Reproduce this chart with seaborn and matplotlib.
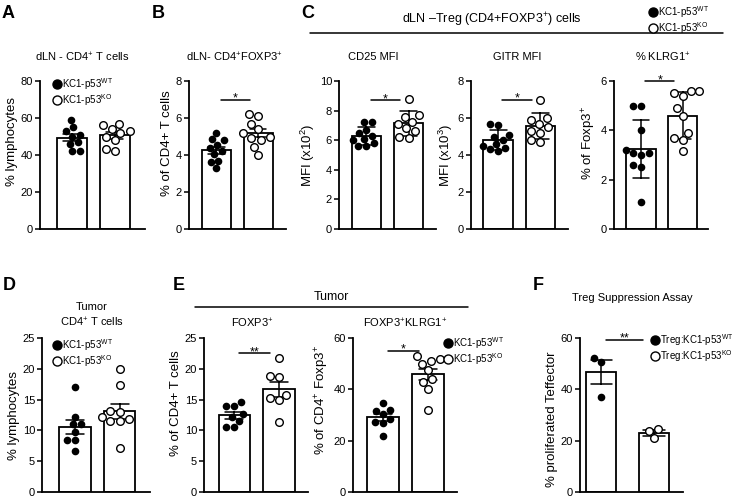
import warnings
warnings.filterwarnings('ignore')
import numpy as np
import pandas as pd
import matplotlib
matplotlib.use('Agg')
import matplotlib.pyplot as plt
import seaborn as sns
from matplotlib.lines import Line2D

sns.set_style('ticks')
plt.rcParams['font.family'] = ['Liberation Sans', 'DejaVu Sans']
plt.rcParams['mathtext.fontset'] = 'custom'
plt.rcParams['mathtext.rm'] = 'Liberation Sans'
plt.rcParams['mathtext.it'] = 'Liberation Sans:italic'
plt.rcParams['mathtext.bf'] = 'Liberation Sans:bold'
plt.rcParams['mathtext.default'] = 'regular'
for k in ['axes.edgecolor', 'xtick.color', 'ytick.color', 'text.color', 'axes.labelcolor']:
    plt.rcParams[k] = 'black'

# ---------------- data ----------------
groups = ['WT', 'KO']
A_wt = [59, 55, 53, 51, 50, 46, 47, 42, 42]
A_ko = [57, 56, 54, 53, 52, 50, 48, 43, 42]
B_wt = [5.2, 4.85, 4.8, 4.55, 4.4, 4.2, 4.05, 3.7, 3.6, 3.3]
B_ko = [6.2, 6.1, 5.7, 5.4, 5.2, 5.0, 4.9, 4.8, 4.45, 4.0]
C1_wt = [7.25, 7.2, 6.7, 6.5, 6.3, 6.1, 6.0, 5.8, 5.6, 5.6]
C1_ko = [8.8, 7.7, 7.6, 7.25, 7.1, 6.8, 6.6, 6.2, 6.15]
C2_wt = [5.7, 5.6, 5.1, 5.0, 4.8, 4.6, 4.5, 4.4, 4.3, 4.2]
C2_ko = [7.0, 6.0, 5.9, 5.7, 5.5, 5.3, 5.2, 4.8, 4.7]
C3_wt = [5.0, 5.0, 4.0, 3.2, 3.1, 3.1, 3.0, 2.6, 2.5, 1.1]
C3_ko = [5.6, 5.6, 5.5, 5.4, 4.9, 4.6, 3.9, 3.7, 3.6, 3.15]
D_wt = [17.0, 12.2, 11.1, 11.0, 9.8, 8.5, 8.4, 6.7]
D_ko = [20.0, 17.3, 13.2, 13.0, 12.2, 11.8, 11.6, 11.5, 7.2]
E1_wt = [14.6, 14.0, 13.9, 12.6, 12.2, 11.5, 10.6, 10.5]
E1_ko = [21.7, 18.9, 18.7, 15.8, 15.2, 14.9, 11.3]
E2_wt = [34.7, 31.8, 31.5, 30.3, 28.6, 27.2, 27.0, 21.8]
E2_ko = [53, 52, 51, 50, 47.5, 44, 43, 40, 32]
F_wt = [52.3, 50.8, 37.2]
F_ko = [24.5, 23.9, 20.9]

legend_labels = ['KC1-p53$^{WT}$', 'KC1-p53$^{KO}$']
legend_labels_F = ['Treg:KC1-p53$^{WT}$', 'Treg:KC1-p53$^{KO}$']

# ---------------- layout helpers ----------------
W, H = 747, 501
fig = plt.figure(figsize=(W / 100, H / 100), dpi=100)


def fx(x):
    return x / W


def fy(y):
    return 1 - y / H


def panel(l, r, t, b, wt, ko, ytop, ystep, ylabel, xlim, err='se', width=0.7,
          sig=None, label_y=0.5):
    ax = fig.add_axes([fx(l), fy(b), (r - l) / W, (b - t) / H])
    df = pd.DataFrame({'g': ['WT'] * len(wt) + ['KO'] * len(ko),
                       'v': list(wt) + list(ko)})
    sns.barplot(data=df, x='g', y='v', order=groups, color='white', saturation=1,
                edgecolor='black', linewidth=1.3, width=width, errorbar=err,
                capsize=0.4, err_kws={'color': 'black', 'linewidth': 1.1}, ax=ax)
    sns.swarmplot(data=df[df.g == 'WT'], x='g', y='v', order=groups, color='black',
                  size=5.5, ax=ax)
    sns.swarmplot(data=df[df.g == 'KO'], x='g', y='v', order=groups, color='white',
                  edgecolor='black', linewidth=1.0, size=5.5, ax=ax)
    ax.set_xlim(*xlim)
    ax.set_ylim(0, ytop)
    ax.set_yticks(np.arange(0, ytop + ystep / 2, ystep))
    ax.set_xticks([])
    ax.set_xlabel('')
    ax.set_ylabel(ylabel, fontsize=9.5, labelpad=2)
    ax.yaxis.label.set_y(label_y)
    sns.despine(ax=ax)
    ax.spines['left'].set_linewidth(1.3)
    ax.spines['bottom'].set_linewidth(1.3)
    ax.spines['left'].set_bounds(0, ytop)
    ax.tick_params(axis='y', length=3.5, width=1.1, labelsize=8, pad=1.5)
    if sig is not None:
        y, star = sig
        ax.plot([0.1, 0.8], [y, y], color='black', lw=1.1, clip_on=False)
        ax.annotate(star, (0.45, y), xytext=(0, -1.5), textcoords='offset points',
                    ha='center', va='baseline', fontsize=9)
    return ax


def legend_at(x, y, labels):
    h = [Line2D([], [], ls='none', marker='o', ms=6.5, mfc='black', mec='black'),
         Line2D([], [], ls='none', marker='o', ms=6.5, mfc='white', mec='black', mew=1)]
    fig.legend(h, labels, loc='upper left', bbox_to_anchor=(fx(x), fy(y)), frameon=False,
               fontsize=7, handlelength=0.7, handletextpad=0.15, labelspacing=0.02,
               borderpad=0, borderaxespad=0)


def ftext(x, y, s, **kw):
    fig.text(fx(x), fy(y), s, ha='center', va='center', **kw)


# ---------------- top row ----------------
T, B = 81, 229
panel(40, 145, T, B, A_wt, A_ko, 80, 20, '% lymphocytes', (-0.74, 1.70), label_y=0.59)
panel(189, 286, T, B, B_wt, B_ko, 8, 2, '% of CD4+ T cells', (-0.66, 1.67),
      sig=(7.0, '*'), label_y=0.58)
panel(339, 436, T, B, C1_wt, C1_ko, 10, 2, 'MFI (x10$^{2}$)', (-0.65, 1.65), err='sd',
      sig=(8.7, '*'))
panel(471, 568, T, B, C2_wt, C2_ko, 8, 2, 'MFI (x10$^{3}$)', (-0.64, 1.65), err='sd',
      sig=(7.0, '*'))
panel(614, 708, T, B, C3_wt, C3_ko, 6, 2, '% of Foxp3$^{+}$', (-0.65, 1.61), err='sd',
      sig=(6.0, '*'), label_y=0.58)

ftext(82, 57, 'dLN - CD4$^{+}$ T cells', fontsize=8)
ftext(235, 57, 'dLN- CD4$^{+}$FOXP3$^{+}$', fontsize=8)
ftext(373, 57, 'CD25 MFI', fontsize=8)
ftext(517, 57, 'GITR MFI', fontsize=8)
ftext(663, 57, '% KLRG1$^{+}$', fontsize=8)

ftext(492, 20, 'dLN \u2013Treg (CD4+FOXP3$^{+}$) cells', fontsize=9)
fig.add_artist(Line2D([fx(310), fx(723)], [fy(33), fy(33)], color='black', lw=1.1))

legend_at(53.5, 76, legend_labels)
legend_at(650, 4, legend_labels)

# ---------------- bottom row ----------------
T2, B2 = 338, 492
panel(42, 150, T2, B2, D_wt, D_ko, 25, 5, '% lymphocytes', (-0.74, 1.68))
panel(204, 308, T2, B2, E1_wt, E1_ko, 25, 5, '% of CD4+ T cells', (-0.68, 1.65),
      sig=(22.5, '**'), label_y=0.58)
panel(353, 457, T2, B2, E2_wt, E2_ko, 60, 20, '% of CD4$^{+}$ Foxp3$^{+}$', (-0.67, 1.64),
      sig=(55, '*'), label_y=0.6)
panel(580, 683, T2, B2, F_wt, F_ko, 60, 20, '% proliferated Teffector', (-0.40, 1.55),
      width=0.57, sig=(59.3, '**'), label_y=0.47)

ftext(92, 307, 'Tumor', fontsize=8)
ftext(92, 322, 'CD4$^{+}$ T cells', fontsize=8)
ftext(252, 323, 'FOXP3$^{+}$', fontsize=8)
ftext(405, 323, 'FOXP3$^{+}$KLRG1$^{+}$', fontsize=8)
ftext(632, 298, 'Treg Suppression Assay', fontsize=8)

ftext(331, 297, 'Tumor', fontsize=9)
fig.add_artist(Line2D([fx(195), fx(468)], [fy(307), fy(307)], color='black', lw=1.1))

legend_at(53.5, 337, legend_labels)
legend_at(444.5, 335, legend_labels)
legend_at(651.5, 332, legend_labels_F)

# ---------------- panel letters ----------------
for s, x, y in [('A', 8, 14), ('B', 158, 14), ('C', 308, 14),
                ('D', 9, 285), ('E', 179, 285), ('F', 538, 285)]:
    ftext(x, y, s, fontsize=13, fontweight='bold')

fig.savefig('out.png', dpi=100)
